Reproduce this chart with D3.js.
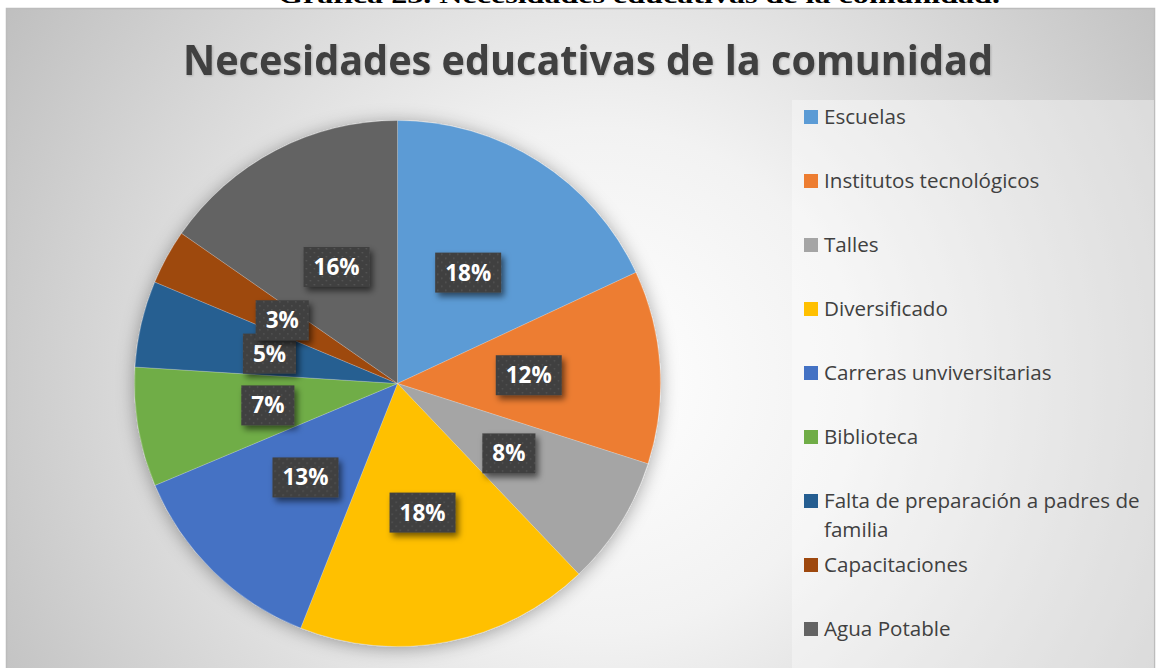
<!DOCTYPE html>
<html lang="es">
<head>
<meta charset="UTF-8">
<title>Necesidades educativas de la comunidad</title>
<script src="https://d3js.org/d3.v7.min.js"></script>
<style>
    body {
        margin: 0;
        padding: 0;
        background: #fff;
        overflow: hidden;
    }
    svg {
        display: block;
    }
    .caption {
        font-family: 'Liberation Serif', 'Times New Roman', serif;
        font-weight: 700;
        font-size: 24px;
        fill: #000;
    }
    .title {
        font-family: 'Open Sans', sans-serif;
        font-weight: 700;
        font-size: 42px;
        fill: #404040;
    }
    .legend-item text {
        font-family: 'Open Sans', sans-serif;
        font-size: 20.6px;
        fill: #404040;
    }
    .data-label text {
        font-family: 'Open Sans', sans-serif;
        font-weight: 700;
        font-size: 22.5px;
        fill: #fff;
    }
</style>
</head>
<body>
<svg id="chart"></svg>
<script>
    const categories = [
        "Escuelas",
        "Institutos tecnológicos",
        "Talles",
        "Diversificado",
        "Carreras unviversitarias",
        "Biblioteca",
        "Falta de preparación a padres de familia",
        "Capacitaciones",
        "Agua Potable"
    ];
    // share of each slice
    const values = [18.06, 11.88, 7.96, 18.1, 12.67, 7.33, 5.3, 3.37, 15.33];
    // text shown on the data labels
    const labels = ["18%", "12%", "8%", "18%", "13%", "7%", "5%", "3%", "16%"];
    const colors = ["#5B9BD5", "#ED7D31", "#A5A5A5", "#FFC000", "#4472C4",
                    "#70AD47", "#255E91", "#9E480E", "#636363"];

    const W = 1156, H = 668;
    const cx = 397.5, cy = 383.5, radius = 263;

    const svg = d3.select("#chart")
        .attr("width", W)
        .attr("height", H);

    const defs = svg.append("defs");

    // chart area background (radial grey gradient)
    const bg = defs.append("radialGradient")
        .attr("id", "bgGrad")
        .attr("gradientUnits", "userSpaceOnUse")
        .attr("cx", 600).attr("cy", 380).attr("r", 720);
    bg.append("stop").attr("offset", "0%").attr("stop-color", "#ffffff");
    bg.append("stop").attr("offset", "35%").attr("stop-color", "#f2f2f2");
    bg.append("stop").attr("offset", "100%").attr("stop-color", "#bdbdbd");

    const pieShadow = defs.append("filter")
        .attr("id", "pieShadow")
        .attr("x", "-20%").attr("y", "-20%")
        .attr("width", "140%").attr("height", "140%");
    pieShadow.append("feDropShadow")
        .attr("dx", 0).attr("dy", 2)
        .attr("stdDeviation", 9)
        .attr("flood-color", "#000")
        .attr("flood-opacity", 0.35);

    const boxShadow = defs.append("filter")
        .attr("id", "boxShadow")
        .attr("x", "-30%").attr("y", "-30%")
        .attr("width", "170%").attr("height", "170%");
    boxShadow.append("feDropShadow")
        .attr("dx", 3).attr("dy", 4)
        .attr("stdDeviation", 3)
        .attr("flood-color", "#000")
        .attr("flood-opacity", 0.55);

    const titleShadow = defs.append("filter").attr("id", "titleShadow");
    titleShadow.append("feDropShadow")
        .attr("dx", 1).attr("dy", 1)
        .attr("stdDeviation", 1)
        .attr("flood-color", "#000")
        .attr("flood-opacity", 0.2);

    // dotted fill for the label boxes
    const dots = defs.append("pattern")
        .attr("id", "dots")
        .attr("patternUnits", "userSpaceOnUse")
        .attr("width", 8).attr("height", 8);
    dots.append("rect").attr("width", 8).attr("height", 8).attr("fill", "#404040");
    dots.append("rect").attr("x", 1).attr("y", 1).attr("width", 1.3).attr("height", 1.3).attr("fill", "#5a5a5a");
    dots.append("rect").attr("x", 5).attr("y", 5).attr("width", 1.3).attr("height", 1.3).attr("fill", "#5a5a5a");

    // caption above the chart (cut off at the top of the page, as in the source)
    svg.append("text")
        .attr("class", "caption")
        .attr("x", 278)
        .attr("y", 3)
        .attr("textLength", 722)
        .attr("lengthAdjust", "spacingAndGlyphs")
        .text("Gráfica 23. Necesidades educativas de la comunidad.");

    // chart area
    svg.append("rect")
        .attr("x", 6.5).attr("y", 8.5)
        .attr("width", 1148).attr("height", 680)
        .attr("fill", "url(#bgGrad)")
        .attr("stroke", "#bcbcbc")
        .attr("stroke-width", 1.5);

    svg.append("text")
        .attr("class", "title")
        .attr("x", 588)
        .attr("y", 75)
        .attr("text-anchor", "middle")
        .attr("textLength", 810)
        .attr("lengthAdjust", "spacingAndGlyphs")
        .attr("filter", "url(#titleShadow)")
        .text("Necesidades educativas de la comunidad");

    // pie
    const pie = d3.pie().sort(null).value(d => d.value);
    const arc = d3.arc().innerRadius(0).outerRadius(radius);
    const data = categories.map((c, i) => ({ name: c, value: values[i], label: labels[i], color: colors[i] }));
    const arcs = pie(data);

    const g = svg.append("g")
        .attr("transform", `translate(${cx},${cy})`);

    g.append("g")
        .attr("filter", "url(#pieShadow)")
        .selectAll("path")
        .data(arcs)
        .join("path")
        .attr("d", arc)
        .attr("fill", d => d.data.color)
        .attr("stroke", "#ffffff")
        .attr("stroke-opacity", 0.35)
        .attr("stroke-width", 0.6);

    // data labels
    const lab = g.selectAll(".data-label")
        .data(arcs)
        .join("g")
        .attr("class", "data-label")
        .attr("transform", d => `translate(${arc.centroid(d)})`);

    lab.append("text")
        .attr("text-anchor", "middle")
        .attr("y", 8)
        .text(d => d.data.label);

    lab.each(function () {
        const t = d3.select(this).select("text");
        const w = t.node().getComputedTextLength() + 20;
        d3.select(this).insert("rect", "text")
            .attr("x", -w / 2).attr("y", -20)
            .attr("width", w).attr("height", 40)
            .attr("fill", "url(#dots)")
            .attr("filter", "url(#boxShadow)");
    });

    // legend
    const legendX = 804, legendTop = 117, legendStep = 64;
    svg.append("rect")
        .attr("x", 792).attr("y", 100)
        .attr("width", 362).attr("height", 580)
        .attr("fill", "#ffffff")
        .attr("opacity", 0.35);

    const items = svg.selectAll(".legend-item")
        .data(data)
        .join("g")
        .attr("class", "legend-item")
        .attr("transform", (d, i) => `translate(${legendX},${legendTop + i * legendStep})`);

    items.append("rect")
        .attr("x", 0).attr("y", -7)
        .attr("width", 14).attr("height", 14)
        .attr("fill", d => d.color);

    items.append("text")
        .attr("x", 20)
        .attr("y", 7)
        .each(function (d) {
            const t = d3.select(this);
            const words = d.name.split(" ");
            const maxW = 326;
            let line = [];
            let tspan = t.append("tspan").attr("x", 20).attr("dy", 0);
            words.forEach(w => {
                line.push(w);
                tspan.text(line.join(" "));
                if (tspan.node().getComputedTextLength() > maxW && line.length > 1) {
                    line.pop();
                    tspan.text(line.join(" "));
                    line = [w];
                    tspan = t.append("tspan").attr("x", 20).attr("dy", 28.5).text(w);
                }
            });
        });
</script>
</body>
</html>
